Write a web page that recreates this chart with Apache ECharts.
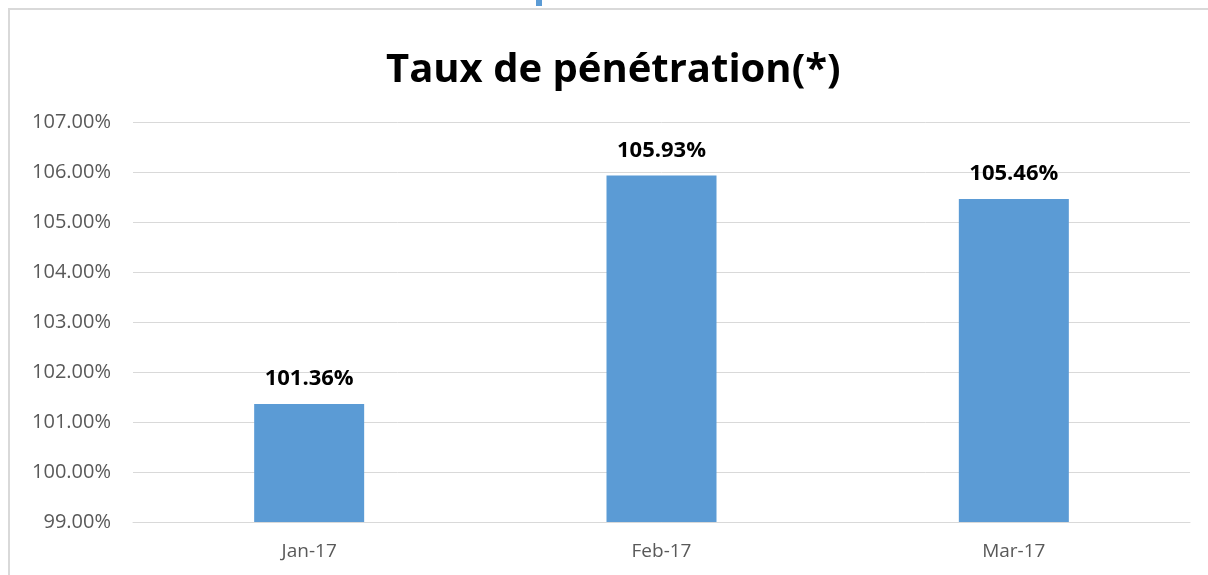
<!DOCTYPE html>
<html>
<head>
<meta charset="utf-8">
<script src="https://cdn.jsdelivr.net/npm/echarts@6/dist/echarts.min.js"></script>
<style>
  html, body { margin: 0; padding: 0; background: #fff; }
  #chart { width: 1208px; height: 575px; }
</style>
</head>
<body>
<div id="chart"></div>
<script>
var months = ['Jan-17', 'Feb-17', 'Mar-17'];
var penetration = [101.36, 105.93, 105.46];
var chartTitle = 'Taux de pénétration(*)';

var myChart = echarts.init(document.getElementById('chart'));

var option = {
  backgroundColor: '#fff',
  animation: false,
  title: {
    text: chartTitle,
    left: 386,
    top: 51,
    padding: 0,
    textStyle: {
      fontFamily: 'Open Sans',
      fontWeight: 'bold',
      fontSize: 40,
      color: '#000'
    }
  },
  graphic: [
    {
      type: 'rect',
      shape: { x: 9, y: 9, width: 1220, height: 600 },
      style: { fill: 'none', stroke: '#d9d9d9', lineWidth: 2 },
      silent: true
    },
    {
      type: 'rect',
      shape: { x: 536, y: 0, width: 6, height: 6 },
      style: { fill: '#5b9bd5' },
      silent: true
    }
  ],
  grid: {
    left: 133,
    right: 18,
    top: 122,
    bottom: 53
  },
  xAxis: {
    type: 'category',
    data: months,
    axisTick: { show: false },
    axisLine: { lineStyle: { color: '#d9d9d9', width: 1 } },
    axisLabel: {
      color: '#595959',
      fontFamily: 'Open Sans',
      fontSize: 19,
      margin: 20
    }
  },
  yAxis: {
    type: 'value',
    min: 99,
    max: 107,
    interval: 1,
    axisLine: { show: false },
    axisTick: { show: false },
    splitLine: { lineStyle: { color: '#d9d9d9', width: 1 } },
    axisLabel: {
      color: '#595959',
      fontFamily: 'Open Sans',
      fontSize: 20,
      margin: 22,
      formatter: function (v) { return v.toFixed(2) + '%'; }
    }
  },
  series: [{
    type: 'bar',
    data: penetration,
    barWidth: 110,
    itemStyle: { color: '#5b9bd5' },
    label: {
      show: true,
      position: 'top',
      distance: 14,
      color: '#000',
      fontFamily: 'Open Sans',
      fontWeight: 'bold',
      fontSize: 22,
      formatter: function (p) { return p.value.toFixed(2) + '%'; }
    }
  }]
};

myChart.setOption(option, true);
window.addEventListener('resize', function () {
  myChart.resize();
});
</script>
</body>
</html>
